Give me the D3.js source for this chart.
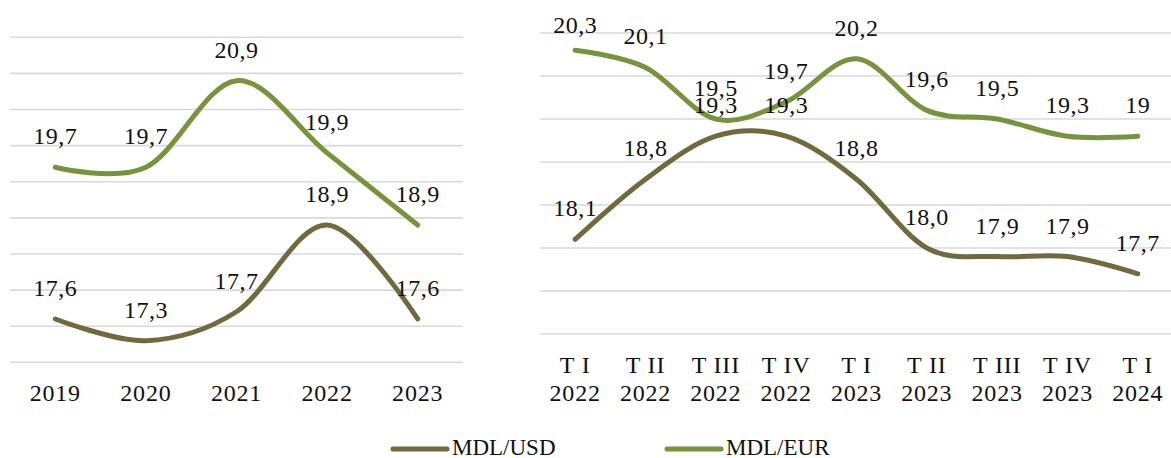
<!DOCTYPE html>
<html>
<head>
<meta charset="utf-8">
<script src="https://cdn.jsdelivr.net/npm/d3@7"></script>
<style>
  html, body { margin: 0; padding: 0; background: #ffffff; }
  svg { display: block; }
  text { font-family: "Liberation Serif", "Times New Roman", serif; fill: #111; }
</style>
</head>
<body>
<svg id="chart" width="1171" height="458"></svg>
<script>
// ---- Data ----
const yearCategories = ["2019", "2020", "2021", "2022", "2023"];
const yearUSD = [17.6, 17.3, 17.7, 18.9, 17.6];
const yearEUR = [19.7, 19.7, 20.9, 19.9, 18.9];

const quarterCategories = [
  ["T I", "2022"], ["T II", "2022"], ["T III", "2022"], ["T IV", "2022"],
  ["T I", "2023"], ["T II", "2023"], ["T III", "2023"], ["T IV", "2023"],
  ["T I", "2024"]
];
const quarterUSD = [18.1, 18.8, 19.3, 19.3, 18.8, 18.0, 17.9, 17.9, 17.7];
const quarterEUR = [20.3, 20.1, 19.5, 19.7, 20.2, 19.6, 19.5, 19.3, 19.3];
const quarterEURLabels = ["20,3", "20,1", "19,5", "19,7", "20,2", "19,6", "19,5", "19,3", "19"];
const quarterUSDLabels = ["18,1", "18,8", "19,3", "19,3", "18,8", "18,0", "17,9", "17,9", "17,7"];

const leftTicks = [17, 17.5, 18, 18.5, 19, 19.5, 20, 20.5, 21, 21.5];
const rightTicks = [17, 17.5, 18, 18.5, 19, 19.5, 20, 20.5];

const seriesNames = ["MDL/USD", "MDL/EUR"];
const colorUSD = "#716a3f";
const colorEUR = "#77933c";

const fmt = v => d3.format(".1f")(v).replace(".", ",");

const svg = d3.select("#chart");
const curve = d3.curveCardinal.tension(0);

function drawPanel(opts) {
  const g = svg.append("g");
  const x = d3.scalePoint().domain(opts.cats.map((c, i) => i)).range(opts.xRange).padding(0.5);
  const y = d3.scaleLinear().domain(opts.yDomain).range(opts.yRange);

  // gridlines
  g.append("g").selectAll("line").data(opts.ticks).join("line")
    .attr("x1", opts.gridX[0]).attr("x2", opts.gridX[1])
    .attr("y1", d => y(d)).attr("y2", d => y(d))
    .attr("stroke", "#d9d9d9").attr("stroke-width", 1.6);

  // category axis labels
  const ax = g.append("g");
  opts.cats.forEach((c, i) => {
    const lines = Array.isArray(c) ? c : [c];
    lines.forEach((t, k) => {
      ax.append("text")
        .attr("x", x(i))
        .attr("y", 401 - (lines.length - 1 - k) * 28)
        .attr("text-anchor", "middle")
        .attr("font-size", 24)
        .attr("letter-spacing", 0.8)
        .text(t);
    });
  });

  const line = d3.line().x((d, i) => x(i)).y(d => y(d)).curve(curve);

  opts.series.forEach(s => {
    g.append("path").datum(s.values)
      .attr("d", line)
      .attr("fill", "none")
      .attr("stroke", s.color)
      .attr("stroke-width", 5)
      .attr("stroke-linecap", "round")
      .attr("stroke-linejoin", "round");
  });

  opts.series.forEach(s => {
    g.append("g").selectAll("text").data(s.values).join("text")
      .attr("x", (d, i) => x(i))
      .attr("y", d => Math.max(y(d) - 23, 33))
      .attr("text-anchor", "middle")
      .attr("font-size", 24)
      .attr("letter-spacing", 0.5)
      .text((d, i) => s.labels ? s.labels[i] : fmt(d));
  });
}

// Left panel: yearly
drawPanel({
  cats: yearCategories,
  xRange: [10, 463],
  gridX: [10, 463],
  yDomain: [17, 21.5],
  yRange: [362.3, 37.3],
  ticks: leftTicks,
  series: [
    { values: yearUSD, color: colorUSD },
    { values: yearEUR, color: colorEUR }
  ]
});

// Right panel: quarterly
drawPanel({
  cats: quarterCategories,
  xRange: [540, 1173],
  gridX: [540, 1171],
  yDomain: [17, 20.5],
  yRange: [334, 33],
  ticks: rightTicks,
  series: [
    { values: quarterUSD, color: colorUSD, labels: quarterUSDLabels },
    { values: quarterEUR, color: colorEUR, labels: quarterEURLabels }
  ]
});

// Legend
const legend = svg.append("g");
const legendItems = [
  { name: seriesNames[0], color: colorUSD, x: 393 },
  { name: seriesNames[1], color: colorEUR, x: 667 }
];
legendItems.forEach(it => {
  legend.append("line")
    .attr("x1", it.x).attr("x2", it.x + 54)
    .attr("y1", 449).attr("y2", 449)
    .attr("stroke", it.color).attr("stroke-width", 5)
    .attr("stroke-linecap", "round");
  legend.append("text")
    .attr("x", it.x + 59).attr("y", 455)
    .attr("font-size", 23)
    .text(it.name);
});
</script>
</body>
</html>
